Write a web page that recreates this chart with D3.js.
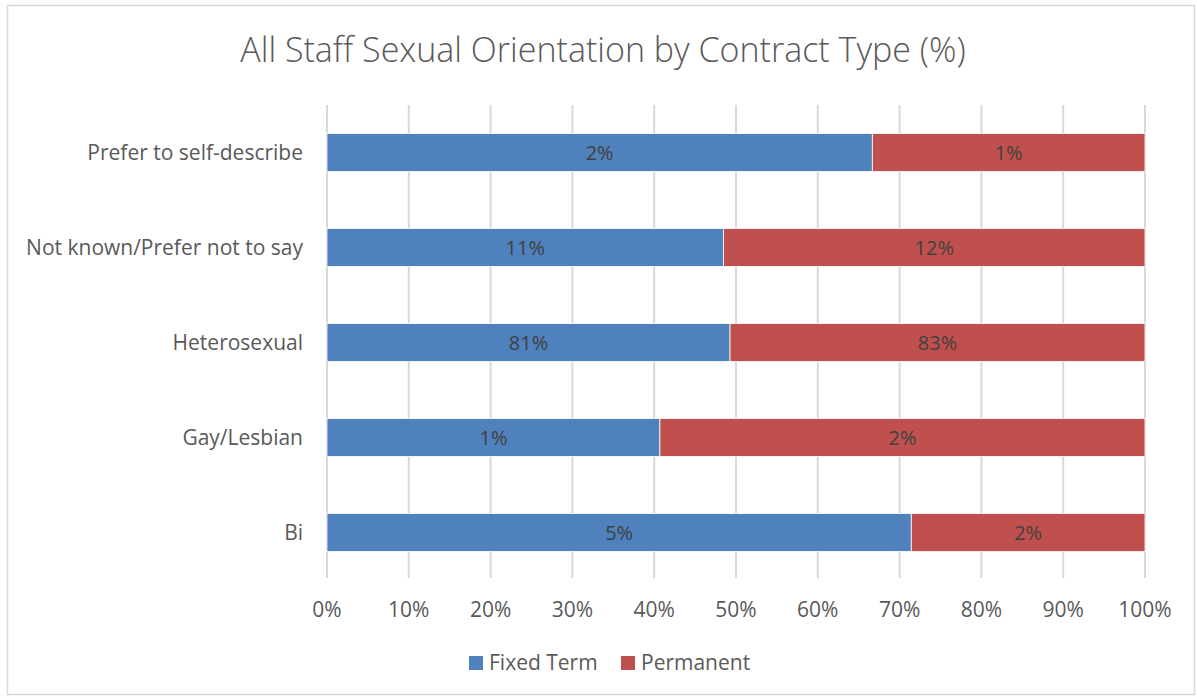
<!DOCTYPE html>
<html>
<head>
<meta charset="utf-8">
<script src="https://cdn.jsdelivr.net/npm/d3@7"></script>
<style>
  body { margin: 0; background: #fff; }
  text { font-family: "Open Sans", "Noto Sans", sans-serif; }
</style>
</head>
<body>
<svg id="chart" width="1197" height="698"></svg>
<script>
// data {{{ //
const categories = ["Prefer to self-describe", "Not known/Prefer not to say", "Heterosexual", "Gay/Lesbian", "Bi"];
const fixedTerm = [2.0, 11.2, 81.0, 1.4, 5.0];
const permanent = [1.0, 11.9, 83.4, 2.04, 2.0];
const seriesNames = ["Fixed Term", "Permanent"];
const seriesColors = ["#4F81BD", "#C0504D"];
const xTicks = [0, 0.1, 0.2, 0.3, 0.4, 0.5, 0.6, 0.7, 0.8, 0.9, 1.0];
// }}} data //

const svg = d3.select("#chart");
const margin = {top: 105, right: 52, bottom: 118, left: 327};
const width = 1197 - margin.left - margin.right;
const height = 698 - margin.top - margin.bottom;

// chart border
svg.append("rect")
  .attr("x", 7.5).attr("y", 5.5)
  .attr("width", 1197 - 10).attr("height", 698 - 9)
  .attr("fill", "none").attr("stroke", "#D9D9D9").attr("stroke-width", 1.5);

const g = svg.append("g").attr("transform", `translate(${margin.left},${margin.top})`);

const x = d3.scaleLinear().domain([0, 1]).range([0, width]);
const y = d3.scaleBand().domain(categories).range([0, height])
  .paddingInner(0.6).paddingOuter(0.3);

// gridlines
g.append("g")
  .selectAll("line")
  .data(xTicks)
  .enter().append("line")
  .attr("x1", d => x(d)).attr("x2", d => x(d))
  .attr("y1", 0).attr("y2", height - 2)
  .attr("stroke", "#D9D9D9").attr("stroke-width", 2);

// stacked rows
const rows = categories.map((c, i) => ({cat: c, vals: [fixedTerm[i], permanent[i]]}));
rows.forEach(function(r) {
  const total = r.vals[0] + r.vals[1];
  let start = 0;
  r.segs = r.vals.map((v, k) => {
    const s = {k: k, v: v, x0: start / total, x1: (start + v) / total};
    start += v;
    return s;
  });
});

const row = g.selectAll(".row")
  .data(rows)
  .enter().append("g")
  .attr("transform", d => `translate(0,${y(d.cat)})`);

row.selectAll("rect")
  .data(d => d.segs)
  .enter().append("rect")
  .attr("x", d => x(d.x0))
  .attr("width", d => x(d.x1) - x(d.x0))
  .attr("height", y.bandwidth())
  .attr("fill", d => seriesColors[d.k])
  .attr("stroke", "#fff").attr("stroke-width", 0.8);

row.selectAll("text")
  .data(d => d.segs)
  .enter().append("text")
  .attr("x", d => (x(d.x0) + x(d.x1)) / 2)
  .attr("y", y.bandwidth() / 2)
  .attr("dy", "0.35em")
  .attr("text-anchor", "middle")
  .attr("fill", "#404040")
  .style("font-size", "20px")
  .text(d => Math.round(d.v) + "%");

// category labels
g.append("g")
  .selectAll("text")
  .data(categories)
  .enter().append("text")
  .attr("x", -24)
  .attr("y", d => y(d) + y.bandwidth() / 2)
  .attr("dy", "0.35em")
  .attr("text-anchor", "end")
  .attr("fill", "#595959")
  .style("font-size", "21px")
  .text(d => d);

// x axis labels
g.append("g")
  .selectAll("text")
  .data(xTicks)
  .enter().append("text")
  .attr("x", d => x(d))
  .attr("y", height + 30)
  .attr("dy", "0.35em")
  .attr("text-anchor", "middle")
  .attr("fill", "#595959")
  .style("font-size", "21px")
  .text(d => d3.format(".0%")(d));

// title
svg.append("text")
  .attr("x", 603).attr("y", 50)
  .attr("dy", "0.35em")
  .attr("text-anchor", "middle")
  .attr("fill", "#595959")
  .style("font-size", "34px")
  .style("font-weight", "300")
  .text("All Staff Sexual Orientation by Contract Type (%)");

// legend
const legend = svg.append("g").attr("transform", "translate(469,663)");
const item = legend.selectAll("g")
  .data(seriesNames)
  .enter().append("g")
  .attr("transform", (d, i) => `translate(${i * 152},0)`);
item.append("rect")
  .attr("x", 0).attr("y", -7)
  .attr("width", 14).attr("height", 14)
  .attr("fill", (d, i) => seriesColors[i]);
item.append("text")
  .attr("x", 20).attr("y", 0)
  .attr("dy", "0.35em")
  .attr("fill", "#595959")
  .style("font-size", "21px")
  .text(d => d);
</script>
</body>
</html>
